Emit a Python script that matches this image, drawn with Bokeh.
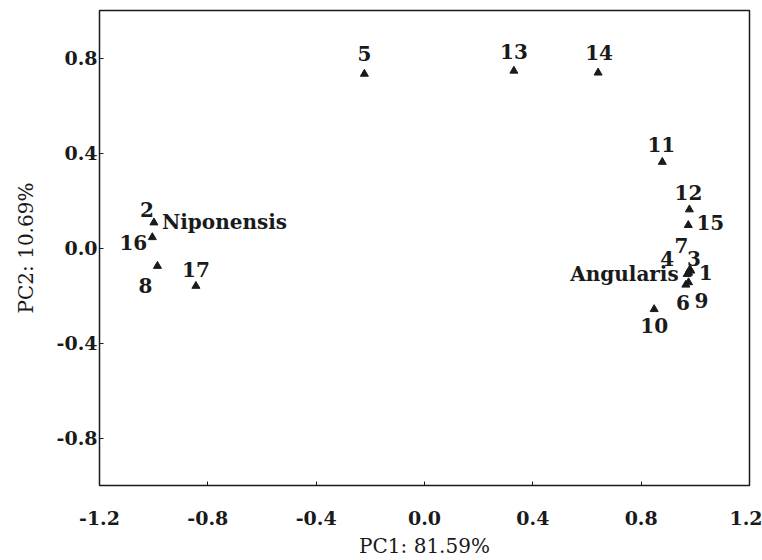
from bokeh.plotting import figure
from bokeh.models import ColumnDataSource, FixedTicker
from bokeh.core.properties import value
from bokeh.embed import file_html
from bokeh.resources import INLINE

# PCA scores
samples = ["1", "2", "3", "4", "5", "6", "7", "8", "9", "10",
           "11", "12", "13", "14", "15", "16", "17"]
pc1 = [0.983, -0.999, 0.980, 0.970, -0.222, 0.965, 0.975, -0.986, 0.975, 0.848,
       0.878, 0.978, 0.330, 0.641, 0.974, -1.005, -0.844]
pc2 = [-0.096, 0.107, -0.090, -0.110, 0.733, -0.155, -0.105, -0.076, -0.145, -0.258,
       0.362, 0.162, 0.746, 0.738, 0.096, 0.045, -0.160]

groups = ["Niponensis", "Angularis"]
group_anchor = ["2", "1"]

x_ticks = [-1.2, -0.8, -0.4, 0.0, 0.4, 0.8, 1.2]
y_ticks = [-0.8, -0.4, 0.0, 0.4, 0.8]

x_title = "PC1: 81.59%"
y_title = "PC2: 10.69%"

# label placement (screen pixel offsets), style only
lab_dx = {"1": 15, "2": -7, "3": 4, "4": -20, "5": 0, "6": -3, "7": -7, "8": -12, "9": 13,
          "10": 0, "11": -1, "12": -1, "13": 0, "14": 1, "15": 22, "16": -19, "17": 0}
lab_dy = {"1": 2, "2": -13, "3": -11, "4": -16, "5": -20, "6": 18, "7": -27, "8": 19, "9": 18,
          "10": 16, "11": -18, "12": -17, "13": -19, "14": -20, "15": -3, "16": 5, "17": -17}
grp_dx = {"Niponensis": 8, "Angularis": -12}
grp_dy = {"Niponensis": -1, "Angularis": 3}
grp_align = {"Niponensis": "left", "Angularis": "right"}

SERIF = "DejaVu Serif"
INK = "#1a1a1a"

p = figure(width=762, height=560, x_range=(-1.2, 1.2), y_range=(-1.0, 1.0),
           output_backend="svg", toolbar_location=None,
           min_border_left=99, min_border_right=13, min_border_top=10, min_border_bottom=73)
p.xgrid.visible = False
p.ygrid.visible = False
p.outline_line_color = INK
p.outline_line_width = 1.5
p.background_fill_color = "white"
p.border_fill_color = "white"

src = ColumnDataSource(dict(
    x=pc1, y=pc2, name=samples,
    dx=[lab_dx[s] for s in samples], dy=[lab_dy[s] for s in samples]))
p.scatter("x", "y", source=src, marker="triangle", size=8,
          fill_color=INK, line_color=INK)
p.text("x", "y", text="name", source=src, x_offset="dx", y_offset="dy",
       text_align="center", text_baseline="middle",
       text_font=value(SERIF), text_font_size="20px", text_font_style="bold",
       text_color=INK)

gx = [pc1[samples.index(a)] for a in group_anchor]
gy = [pc2[samples.index(a)] for a in group_anchor]
gsrc = ColumnDataSource(dict(
    x=gx, y=gy, name=groups,
    dx=[grp_dx[g] for g in groups], dy=[grp_dy[g] for g in groups],
    align=[grp_align[g] for g in groups]))
p.text("x", "y", text="name", source=gsrc, x_offset="dx", y_offset="dy",
       text_align="align", text_baseline="middle",
       text_font=value(SERIF), text_font_size="20px", text_font_style="bold",
       text_color=INK)

for ax in (p.xaxis[0], p.yaxis[0]):
    ax.axis_line_color = None
    ax.major_tick_in = 4
    ax.major_tick_out = 0
    ax.minor_tick_line_color = None
    ax.major_tick_line_color = INK
    ax.major_label_text_font = SERIF
    ax.major_label_text_font_size = "19px"
    ax.major_label_text_font_style = "bold"
    ax.major_label_text_color = INK
    ax.axis_label_text_font = SERIF
    ax.axis_label_text_font_size = "20px"
    ax.axis_label_text_font_style = "normal"
    ax.axis_label_text_color = INK

p.xaxis.ticker = FixedTicker(ticks=x_ticks)
p.yaxis.ticker = FixedTicker(ticks=y_ticks)
p.xaxis.major_label_overrides = {t: f"{t:.1f}" for t in x_ticks}
p.yaxis.major_label_overrides = {t: f"{t:.1f}" for t in y_ticks}
p.xaxis.axis_label = x_title
p.yaxis.axis_label = y_title
p.xaxis.major_label_standoff = 25
p.xaxis.axis_label_standoff = 6
p.yaxis.major_label_standoff = 2
p.yaxis.axis_label_standoff = 16

open("out.html", "w").write(file_html(p, INLINE))
